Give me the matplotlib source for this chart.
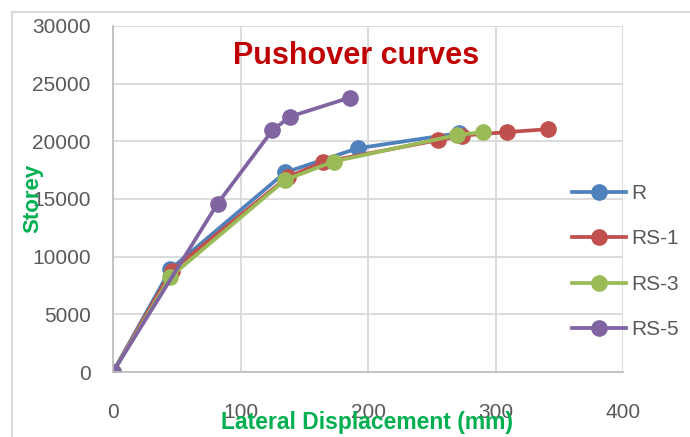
import matplotlib
matplotlib.use('Agg')
import matplotlib.pyplot as plt
from matplotlib.patches import Rectangle

# lateral displacement (mm) and storey shear
r_x = [0, 45, 135, 192, 271]
r_y = [0, 8900, 17300, 19400, 20700]

rs1_x = [0, 46, 137, 165, 255, 274, 309, 341]
rs1_y = [0, 8800, 16900, 18200, 20100, 20500, 20800, 21050]

rs3_x = [0, 45, 135, 173, 270, 290]
rs3_y = [0, 8250, 16650, 18250, 20550, 20800]

rs5_x = [0, 82, 125, 139, 186]
rs5_y = [0, 14600, 20950, 22150, 23800]

series = [('R', r_x, r_y, '#4F81BD'),
          ('RS-1', rs1_x, rs1_y, '#C0504D'),
          ('RS-3', rs3_x, rs3_y, '#9BBB59'),
          ('RS-5', rs5_x, rs5_y, '#8064A2')]

plt.rcParams['font.family'] = ['Liberation Sans', 'DejaVu Sans']

fig = plt.figure(figsize=(6.9, 4.37), dpi=100)
ax = fig.add_axes([113 / 690, 1 - 372 / 437, 510 / 690, 346 / 437])

fig.patches.append(Rectangle((12 / 690, -0.1), 1.2, 1 - 12 / 437 + 0.1,
                             transform=fig.transFigure, fill=False,
                             edgecolor='#D9D9D9', lw=1.5))

for name, x, y, c in series:
    ax.plot(x, y, color=c, lw=2.7, marker='o', ms=11, label=name)

ax.set_xlim(0, 400)
ax.set_ylim(0, 30000)
ax.set_xticks([0, 100, 200, 300, 400])
ax.set_yticks(range(0, 30001, 5000))
ax.grid(True, color='#D9D9D9', lw=1.3)
ax.set_axisbelow(True)
for s in ax.spines.values():
    s.set_visible(False)
for side in ['left', 'bottom']:
    ax.spines[side].set_visible(True)
    ax.spines[side].set_color('#BFBFBF')
    ax.spines[side].set_linewidth(1.3)
ax.tick_params(length=0, labelsize=15, labelcolor='#595959')
ax.tick_params(axis='x', pad=22)
ax.tick_params(axis='y', pad=16)

ax.text(356 / 690, 1 - 56 / 437, 'Pushover curves', transform=fig.transFigure,
        ha='center', va='center', fontsize=22, fontweight='bold', color='#C00000')

fig.text(33 / 690, 1 - 198 / 437, 'Storey', rotation=90, ha='center', va='center',
         fontsize=16, fontweight='bold', color='#00B050')
fig.text(367 / 690, 1 - 423 / 437, 'Lateral Displacement (mm)', ha='center', va='center',
         fontsize=16.5, fontweight='bold', color='#00B050')

leg = ax.legend(loc='upper left', bbox_to_anchor=(572 / 690, 1 - 184 / 437),
                bbox_transform=fig.transFigure, frameon=False, fontsize=15,
                labelcolor='#595959', handlelength=2.6, labelspacing=1.27,
                handletextpad=0.25, borderaxespad=0, borderpad=0)

fig.savefig('out.png', dpi=100)
